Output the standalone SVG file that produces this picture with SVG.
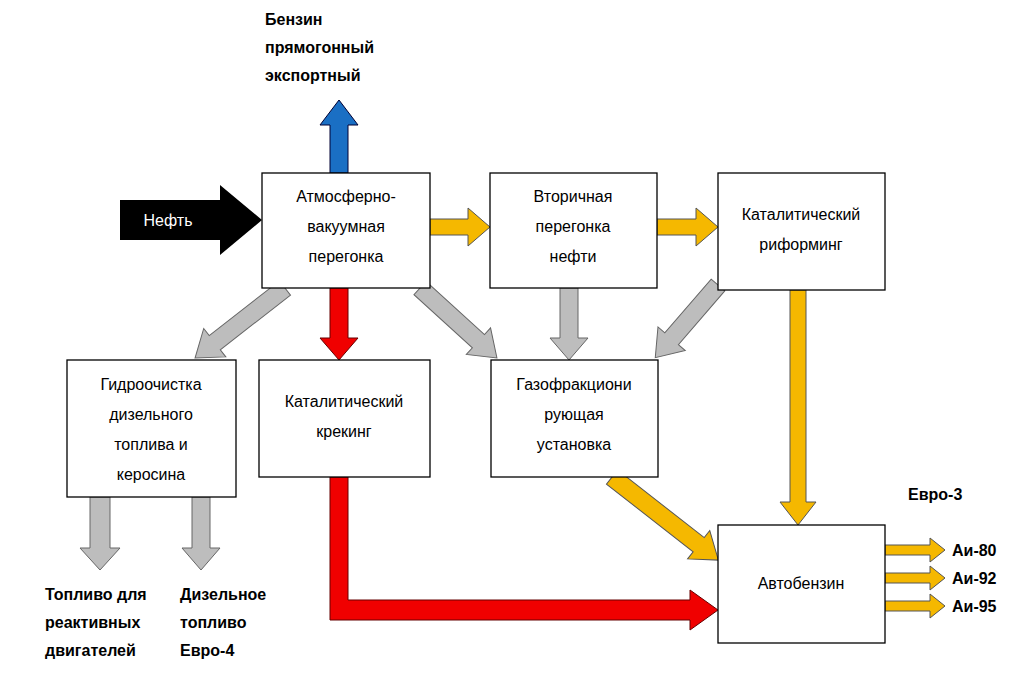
<svg xmlns="http://www.w3.org/2000/svg" width="1015" height="678" viewBox="0 0 1015 678">
<style>
.box{fill:#fff;stroke:#000;stroke-width:1.3}
.t{font-family:"Liberation Sans",Arial,sans-serif;font-size:16px;text-anchor:middle;fill:#000}
.b{font-family:"Liberation Sans",Arial,sans-serif;font-size:16px;font-weight:bold;fill:#000}
.y{fill:#f5b800;stroke:#555;stroke-width:1}
.g{fill:#bdbdbd;stroke:#666;stroke-width:1}
.r{fill:#f00000;stroke:#600;stroke-width:1}
.bl{fill:#1a6fc4;stroke:#003;stroke-width:1}
.k{fill:#000}
</style>
<rect width="1015" height="678" fill="#fff"/>
<g id="connectors">
<polygon class="k" points="120,200 220,200 220,185 262,220 220,255 220,240 120,240"/>
<polygon class="bl" points="330,173 330,125 320,125 339,100 358,125 348,125 348,173"/>
<polygon class="y" points="430,219 468,219 468,208 490,227 468,246 468,235 430,235"/>
<polygon class="y" points="657,219 696,219 696,208 718,227 696,246 696,235 657,235"/>
<polygon class="r" points="330,288 330,338 320,338 339,360 358,338 348,338 348,288"/>
<polygon class="g" points="560,288 560,338 550,338 569,360 588,338 578,338 578,288"/>
<polygon class="g" transform="translate(285,288) rotate(142.1)" points="0,-9 89,-9 89,-18 114,0 89,18 89,9 0,9"/>
<polygon class="g" transform="translate(420,288) rotate(42.3)" points="0,-9 79,-9 79,-18 104,0 79,18 79,9 0,9"/>
<polygon class="g" transform="translate(718,285) rotate(130.8)" points="0,-9 71,-9 71,-18 96,0 71,18 71,9 0,9"/>
<polygon class="y" transform="translate(612,477) rotate(38)" points="0,-9 110,-9 110,-18 135,0 110,18 110,9 0,9"/>
<polygon class="y" points="790,290 790,502 780,502 798,525 816,502 806,502 806,290"/>
<polygon class="r" points="330,477 348,477 348,600 690,600 690,590 718,610 690,630 690,620 330,620"/>
<polygon class="g" points="90,497 90,548 80,548 100,570 120,548 110,548 110,497"/>
<polygon class="g" points="192,497 192,548 182,548 201,570 220,548 210,548 210,497"/>
<polygon class="y" points="885,545 930,545 930,538 945,550 930,562 930,555 885,555"/>
<polygon class="y" points="885,573 930,573 930,566 945,578 930,590 930,583 885,583"/>
<polygon class="y" points="885,601 930,601 930,594 945,606 930,618 930,611 885,611"/>
</g>
<text x="168" y="226" font-family="Liberation Sans,Arial,sans-serif" font-size="16" fill="#fff" text-anchor="middle">Нефть</text>
<g id="avp"><rect class="box" x="262" y="173" width="168" height="115"/>
<text class="t" x="346" y="202">Атмосферно-</text><text class="t" x="346" y="232">вакуумная</text><text class="t" x="346" y="262">перегонка</text></g>
<g id="vtor"><rect class="box" x="490" y="173" width="167" height="115"/>
<text class="t" x="573" y="202">Вторичная</text><text class="t" x="573" y="232">перегонка</text><text class="t" x="573" y="262">нефти</text></g>
<g id="rif"><rect class="box" x="718" y="173" width="167" height="117"/>
<text class="t" x="801" y="220">Каталитический</text><text class="t" x="801" y="250">риформинг</text></g>
<g id="gidro"><rect class="box" x="67" y="360" width="169" height="137"/>
<text class="t" x="151" y="390">Гидроочистка</text><text class="t" x="151" y="420">дизельного</text><text class="t" x="151" y="450">топлива и</text><text class="t" x="151" y="480">керосина</text></g>
<g id="krek"><rect class="box" x="259" y="360" width="171" height="117"/>
<text class="t" x="344" y="407">Каталитический</text><text class="t" x="344" y="437">крекинг</text></g>
<g id="gfu"><rect class="box" x="491" y="360" width="167" height="117"/>
<text class="t" x="574" y="390">Газофракциони</text><text class="t" x="574" y="420">рующая</text><text class="t" x="574" y="450">установка</text></g>
<g id="avto"><rect class="box" x="718" y="525" width="167" height="118"/>
<text class="t" x="801" y="589">Автобензин</text></g>
<g id="labels">
<text class="b" x="265" y="25">Бензин</text><text class="b" x="265" y="53">прямогонный</text><text class="b" x="265" y="81">экспортный</text>
<text class="b" x="908" y="500">Евро-3</text>
<text class="b" x="952" y="556">Аи-80</text><text class="b" x="952" y="584">Аи-92</text><text class="b" x="952" y="612">Аи-95</text>
<text class="b" x="45" y="600">Топливо для</text><text class="b" x="45" y="628">реактивных</text><text class="b" x="45" y="656">двигателей</text>
<text class="b" x="180" y="600">Дизельное</text><text class="b" x="180" y="628">топливо</text><text class="b" x="180" y="656">Евро-4</text>
</g>
</svg>
